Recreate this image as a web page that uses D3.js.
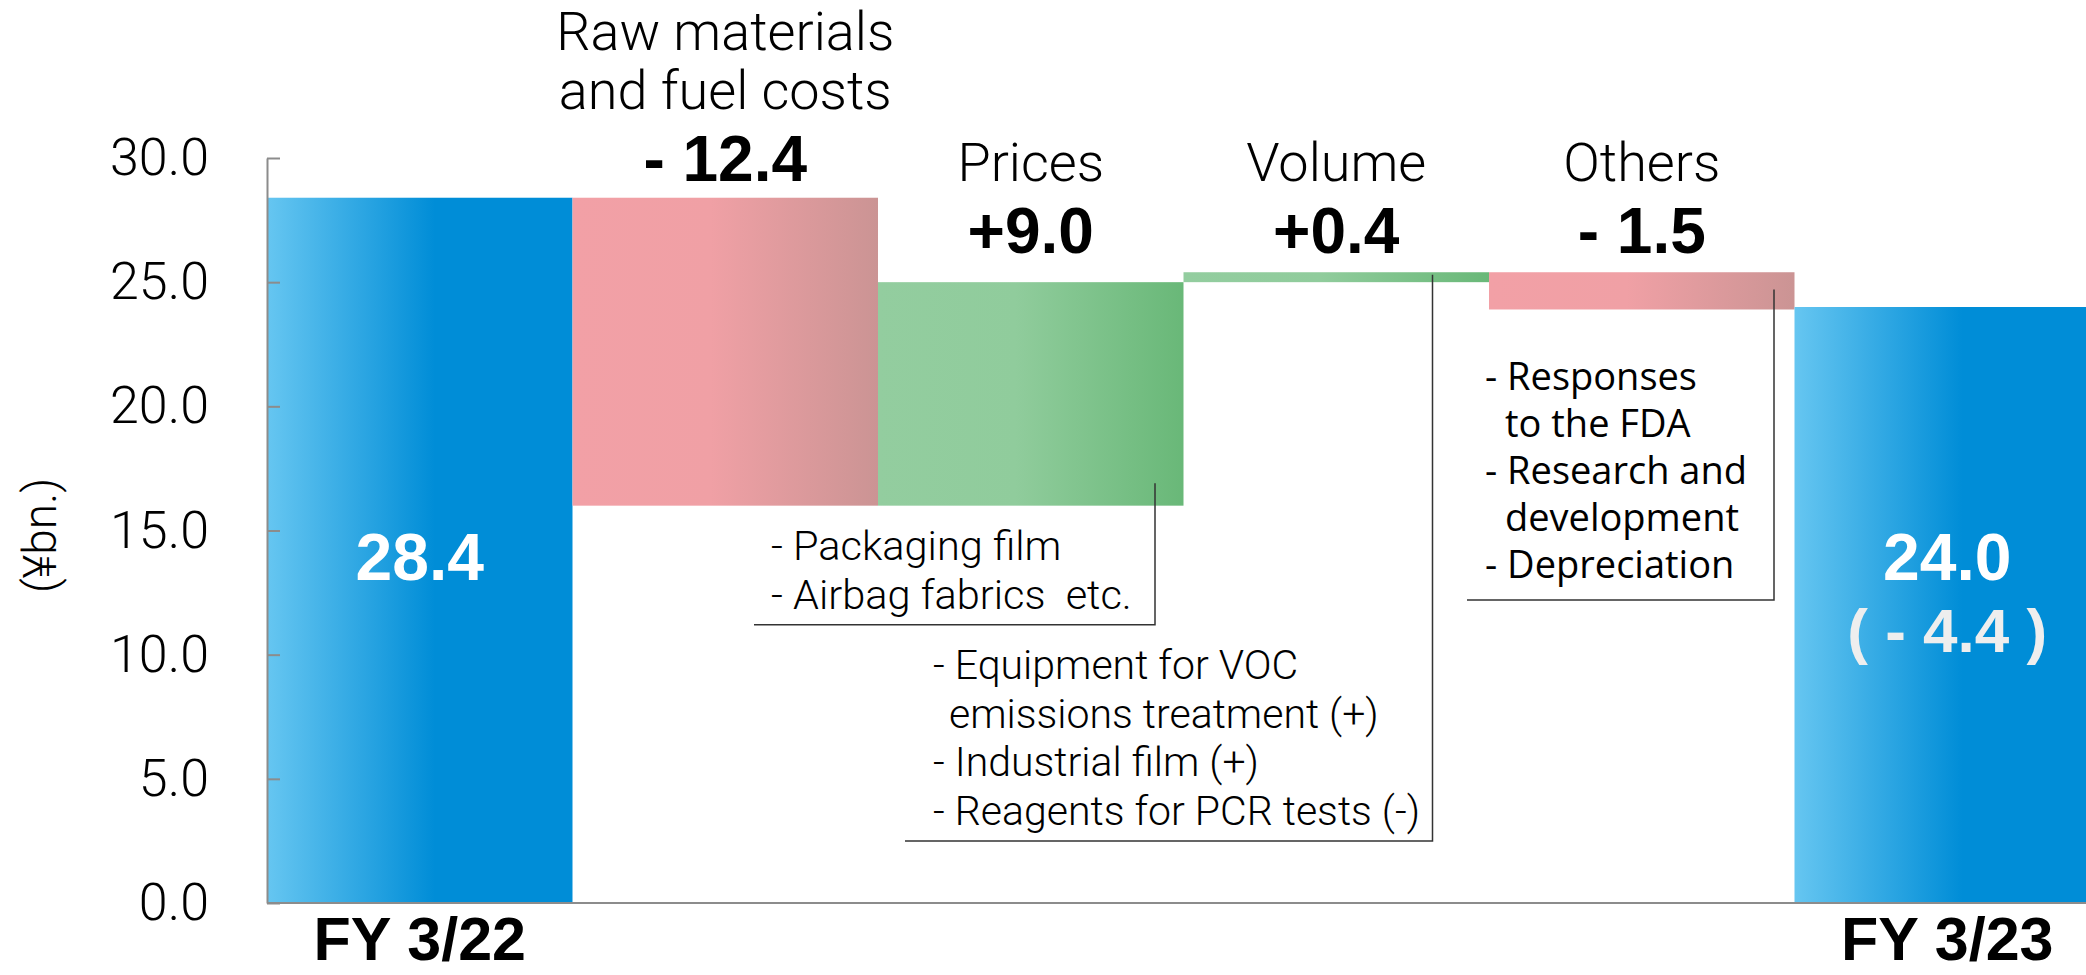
<!DOCTYPE html>
<html>
<head>
<meta charset="utf-8">
<script src="https://cdn.jsdelivr.net/npm/d3@7"></script>
<style>
  html, body { margin: 0; padding: 0; background: #fff; overflow: hidden; }
  svg { display: block; }
  .thin { font-family: "Roboto", "Liberation Sans", sans-serif; font-weight: 300; }
  .bold { font-family: "Liberation Sans", Arial, sans-serif; font-weight: bold; }
  .reg { font-family: "Open Sans", "Roboto", sans-serif; font-weight: 400; }
</style>
</head>
<body>
<div id="chart"></div>
<script>
// data
const categories = ["FY 3/22", "Raw materials and fuel costs", "Prices", "Volume", "Others", "FY 3/23"];
const labelLines = [[], ["Raw materials", "and fuel costs"], ["Prices"], ["Volume"], ["Others"], []];
const values = [28.4, -12.4, 9.0, 0.4, -1.5, 24.0];
const kinds = ["total", "down", "up", "up", "down", "total"];
const valueLabels = ["28.4", "- 12.4", "+9.0", "+0.4", "- 1.5", "24.0"];
const diffLabel = "( - 4.4 )";
const yTicks = [0, 5, 10, 15, 20, 25, 30];
const yTitle = "(\u00a5bn.)";

const notesPrices = ["- Packaging film", "- Airbag fabrics  etc."];
const notesVolume = ["- Equipment for VOC", "  emissions treatment (+)", "- Industrial film (+)", "- Reagents for PCR tests (-)"];
const notesOthers = ["- Responses", "  to the FDA", "- Research and", "  development", "- Depreciation"];

const width = 2086, height = 975;

const svg = d3.select("#chart").append("svg")
    .attr("width", width)
    .attr("height", height);

const x = d3.scaleBand().domain(categories).range([267, 2100]).padding(0);
const y = d3.scaleLinear().domain([0, 30]).range([903, 158]);

// gradients
const defs = svg.append("defs");
function gradient(id, stops) {
    const g = defs.append("linearGradient").attr("id", id)
        .attr("x1", "0%").attr("x2", "100%").attr("y1", "0%").attr("y2", "0%");
    stops.forEach(s => g.append("stop").attr("offset", s[0]).attr("stop-color", s[1]));
}
gradient("g-total", [["0%", "#66c6f1"], ["55%", "#008dd7"], ["100%", "#008dd7"]]);
gradient("g-down", [["0%", "#f2a0a6"], ["45%", "#f0a0a5"], ["100%", "#cb9494"]]);
gradient("g-up", [["0%", "#93cd9f"], ["45%", "#90cc9c"], ["100%", "#69b878"]]);

// running totals for the waterfall
let running = 0;
const bars = categories.map((c, i) => {
    let y0, y1;
    if (kinds[i] === "total") {
        y0 = 0; y1 = values[i]; running = values[i];
    } else {
        y0 = running; y1 = running + values[i]; running = y1;
    }
    return { cat: c, i, lo: Math.min(y0, y1), hi: Math.max(y0, y1), kind: kinds[i] };
});

svg.append("g").selectAll("rect")
    .data(bars)
    .join("rect")
    .attr("x", d => x(d.cat))
    .attr("y", d => y(d.hi))
    .attr("width", x.bandwidth())
    .attr("height", d => y(d.lo) - y(d.hi))
    .attr("fill", d => `url(#g-${d.kind})`);

// axes
const yAxis = svg.append("g")
    .attr("transform", `translate(${x.range()[0]},0)`)
    .call(d3.axisLeft(y).tickValues(yTicks).tickFormat(d3.format(".1f"))
        .tickSizeInner(-13).tickSizeOuter(0).tickPadding(58));
yAxis.select(".domain").attr("stroke", "#8c8c8c").attr("stroke-width", 2);
yAxis.selectAll(".tick line").attr("stroke", "#8c8c8c").attr("stroke-width", 2);
yAxis.selectAll(".tick text")
    .attr("class", "thin")
    .attr("font-size", 52)
    .attr("fill", "#000");

svg.append("line")
    .attr("x1", x.range()[0]).attr("x2", width)
    .attr("y1", y(0)).attr("y2", y(0))
    .attr("stroke", "#8c8c8c").attr("stroke-width", 2);

svg.append("text")
    .attr("class", "thin")
    .attr("transform", `translate(56,${y(14.8)}) rotate(-90)`)
    .attr("text-anchor", "middle")
    .attr("font-size", 46)
    .text(yTitle);

// labels above the change bars
const cx = d => x(d.cat) + x.bandwidth() / 2;
bars.filter(d => d.kind !== "total").forEach(d => {
    const vBase = Math.min(y(d.hi) - 17, 253);
    svg.append("text")
        .attr("class", "bold")
        .attr("x", cx(d)).attr("y", vBase)
        .attr("text-anchor", "middle")
        .attr("font-size", 64)
        .text(valueLabels[d.i]);
    const lines = labelLines[d.i];
    lines.forEach((l, k) => {
        svg.append("text")
            .attr("class", "thin")
            .attr("x", cx(d))
            .attr("y", vBase - 72 - (lines.length - 1 - k) * 59)
            .attr("text-anchor", "middle")
            .attr("font-size", 54)
            .text(l);
    });
});

// totals: values inside bars and category names below
bars.filter(d => d.kind === "total").forEach(d => {
    svg.append("text")
        .attr("class", "bold")
        .attr("x", cx(d)).attr("y", y(13.0))
        .attr("text-anchor", "middle")
        .attr("font-size", 66)
        .attr("fill", "#fff")
        .text(valueLabels[d.i]);
    svg.append("text")
        .attr("class", "bold")
        .attr("x", cx(d)).attr("y", 960)
        .attr("text-anchor", "middle")
        .attr("font-size", 61)
        .text(d.cat);
});
const last = bars[bars.length - 1];
svg.append("text")
    .attr("class", "bold")
    .attr("x", cx(last)).attr("y", y(10.1))
    .attr("text-anchor", "middle")
    .attr("font-size", 62)
    .attr("fill", "#eeeeee")
    .text(diffLabel);

// callout notes
function callout(cat, lineX, fromV, toV, leftX, textX, firstBase, step, lines, cls, size, indent) {
    const bx = x(cat) + lineX;
    svg.append("path")
        .attr("d", `M${bx},${y(fromV)}V${y(toV)}H${leftX}`)
        .attr("fill", "none")
        .attr("stroke", "#333")
        .attr("stroke-width", 1.5);
    lines.forEach((l, k) => {
        const indented = l.startsWith(" ");
        svg.append("text")
            .attr("class", cls)
            .attr("x", textX + (indented ? indent : 0))
            .attr("y", firstBase + k * step)
            .attr("font-size", size)
            .style("white-space", "pre")
            .text(indented ? l.trim() : l);
    });
}
callout("Prices", 277, 16.9, 11.2, 754, 771, 560, 49, notesPrices, "thin", 41.5, 0);
callout("Volume", 249, 25.3, 2.5, 905, 933, 679, 48.5, notesVolume, "thin", 41, 16);
callout("Others", 285, 24.7, 12.2, 1467, 1485, 390, 47, notesOthers, "reg", 38, 20);
</script>
</body>
</html>
